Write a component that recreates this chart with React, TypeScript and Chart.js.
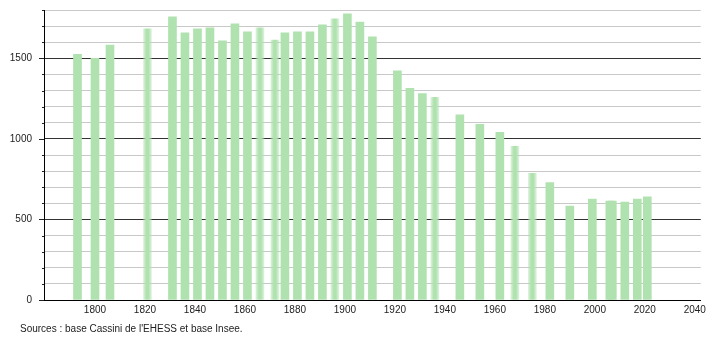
import React, { useEffect, useRef } from "react";
import { Chart, registerables } from "chart.js";

Chart.register(...registerables);

const years = [
  1793, 1800, 1806, 1821, 1831, 1836, 1841, 1846, 1851, 1856, 1861, 1866, 1872,
  1876, 1881, 1886, 1891, 1896, 1901, 1906, 1911, 1921, 1926, 1931, 1936, 1946,
  1954, 1962, 1968, 1975, 1982, 1990, 1999, 2006, 2007, 2012, 2017, 2021,
];
const populations = [
  1525, 1500, 1583, 1683, 1758, 1658, 1683, 1689, 1608, 1714, 1664, 1689, 1614,
  1658, 1664, 1664, 1708, 1745, 1777, 1725, 1633, 1423, 1314, 1281, 1258, 1150,
  1091, 1041, 954, 787, 729, 583, 627, 614, 614, 608, 627, 641,
];
const blurredYears = [1821, 1866, 1872, 1896, 1936, 1968, 1975];
const xTickLabels = [1800, 1820, 1840, 1860, 1880, 1900, 1920, 1940, 1960, 1980, 2000, 2020, 2040];
const sourceText = "Sources : base Cassini de l'EHESS et base Insee.";

const FONT = '"Liberation Sans", Arial, Helvetica, sans-serif';
const BAR = "rgb(176,226,176)";

export default function App() {
  const ref = useRef<HTMLCanvasElement | null>(null);

  useEffect(() => {
    document.body.style.margin = "0";
    const canvas = ref.current;
    if (!canvas) return;

    const tickMarks = {
      id: "tickMarks",
      afterDraw(chart: any) {
        const c = chart.ctx;
        const y = chart.scales.y;
        const left = chart.chartArea.left;
        c.save();
        c.strokeStyle = "#222";
        c.lineWidth = 1;
        for (let v = 0; v <= 1800; v += 100) {
          const py = Math.round(y.getPixelForValue(v)) + 0.5;
          const len = v % 500 === 0 ? 5 : 2;
          c.beginPath();
          c.moveTo(left - len, py);
          c.lineTo(left, py);
          c.stroke();
        }
        c.fillStyle = "#222";
        c.font = "10px " + FONT;
        c.textBaseline = "middle";
        c.textAlign = "left";
        c.fillText(sourceText, 20, 329);
        c.restore();
      },
    };

    const chart = new Chart(canvas, {
      type: "bar",
      data: {
        datasets: [
          {
            data: years.map((yr, i) => ({ x: yr, y: populations[i] })),
            backgroundColor: (ctx: any) => {
              if (ctx.dataIndex === undefined) return BAR;
              const yr = years[ctx.dataIndex];
              if (!blurredYears.includes(yr)) return BAR;
              const xs = ctx.chart.scales && ctx.chart.scales.x;
              if (!xs) return BAR;
              const px = xs.getPixelForValue(yr);
              const g = ctx.chart.ctx.createLinearGradient(px - 4, 0, px + 4, 0);
              g.addColorStop(0, "rgba(176,226,176,0.45)");
              g.addColorStop(0.35, BAR);
              g.addColorStop(0.65, BAR);
              g.addColorStop(1, "rgba(176,226,176,0.45)");
              return g;
            },
            borderWidth: 0,
            barThickness: 8,
          },
        ],
      },
      options: {
        animation: false,
        responsive: false,
        maintainAspectRatio: false,
        layout: { padding: { top: 10, right: 9, left: 0, bottom: 0 } },
        plugins: {
          legend: { display: false },
          tooltip: { enabled: false },
        },
        scales: {
          x: {
            type: "linear",
            min: 1779.6,
            max: 2042.4,
            offset: false,
            afterBuildTicks: (s: any) => {
              s.ticks = xTickLabels.map((v) => ({ value: v }));
            },
            afterFit: (s: any) => {
              s.height = 40;
            },
            grid: { display: false, drawTicks: false },
            border: { display: true, color: "#000", width: 1 },
            ticks: {
              autoSkip: false,
              maxRotation: 0,
              padding: 4,
              color: "#222",
              font: { family: FONT, size: 10 },
              callback: (v: any) => String(v),
            },
          },
          y: {
            min: 0,
            max: 1800,
            afterFit: (s: any) => {
              s.width = 44;
            },
            grid: {
              drawTicks: true,
              tickLength: 12,
              tickColor: "rgba(0,0,0,0)",
              color: (ctx: any) =>
                ctx.tick && ctx.tick.value % 500 === 0 ? "#333" : "#c8c8c8",
            },
            border: { display: true, color: "#000", width: 1 },
            ticks: {
              stepSize: 100,
              padding: 0,
              color: "#222",
              font: { family: FONT, size: 10 },
              callback: (v: any) => (Number(v) % 500 === 0 ? String(v) : ""),
            },
          },
        },
      },
      plugins: [tickMarks],
    } as any);

    return () => chart.destroy();
  }, []);

  return (
    <div style={{ width: 710, height: 340 }}>
      <canvas ref={ref} width={710} height={340} style={{ display: "block" }} />
    </div>
  );
}
